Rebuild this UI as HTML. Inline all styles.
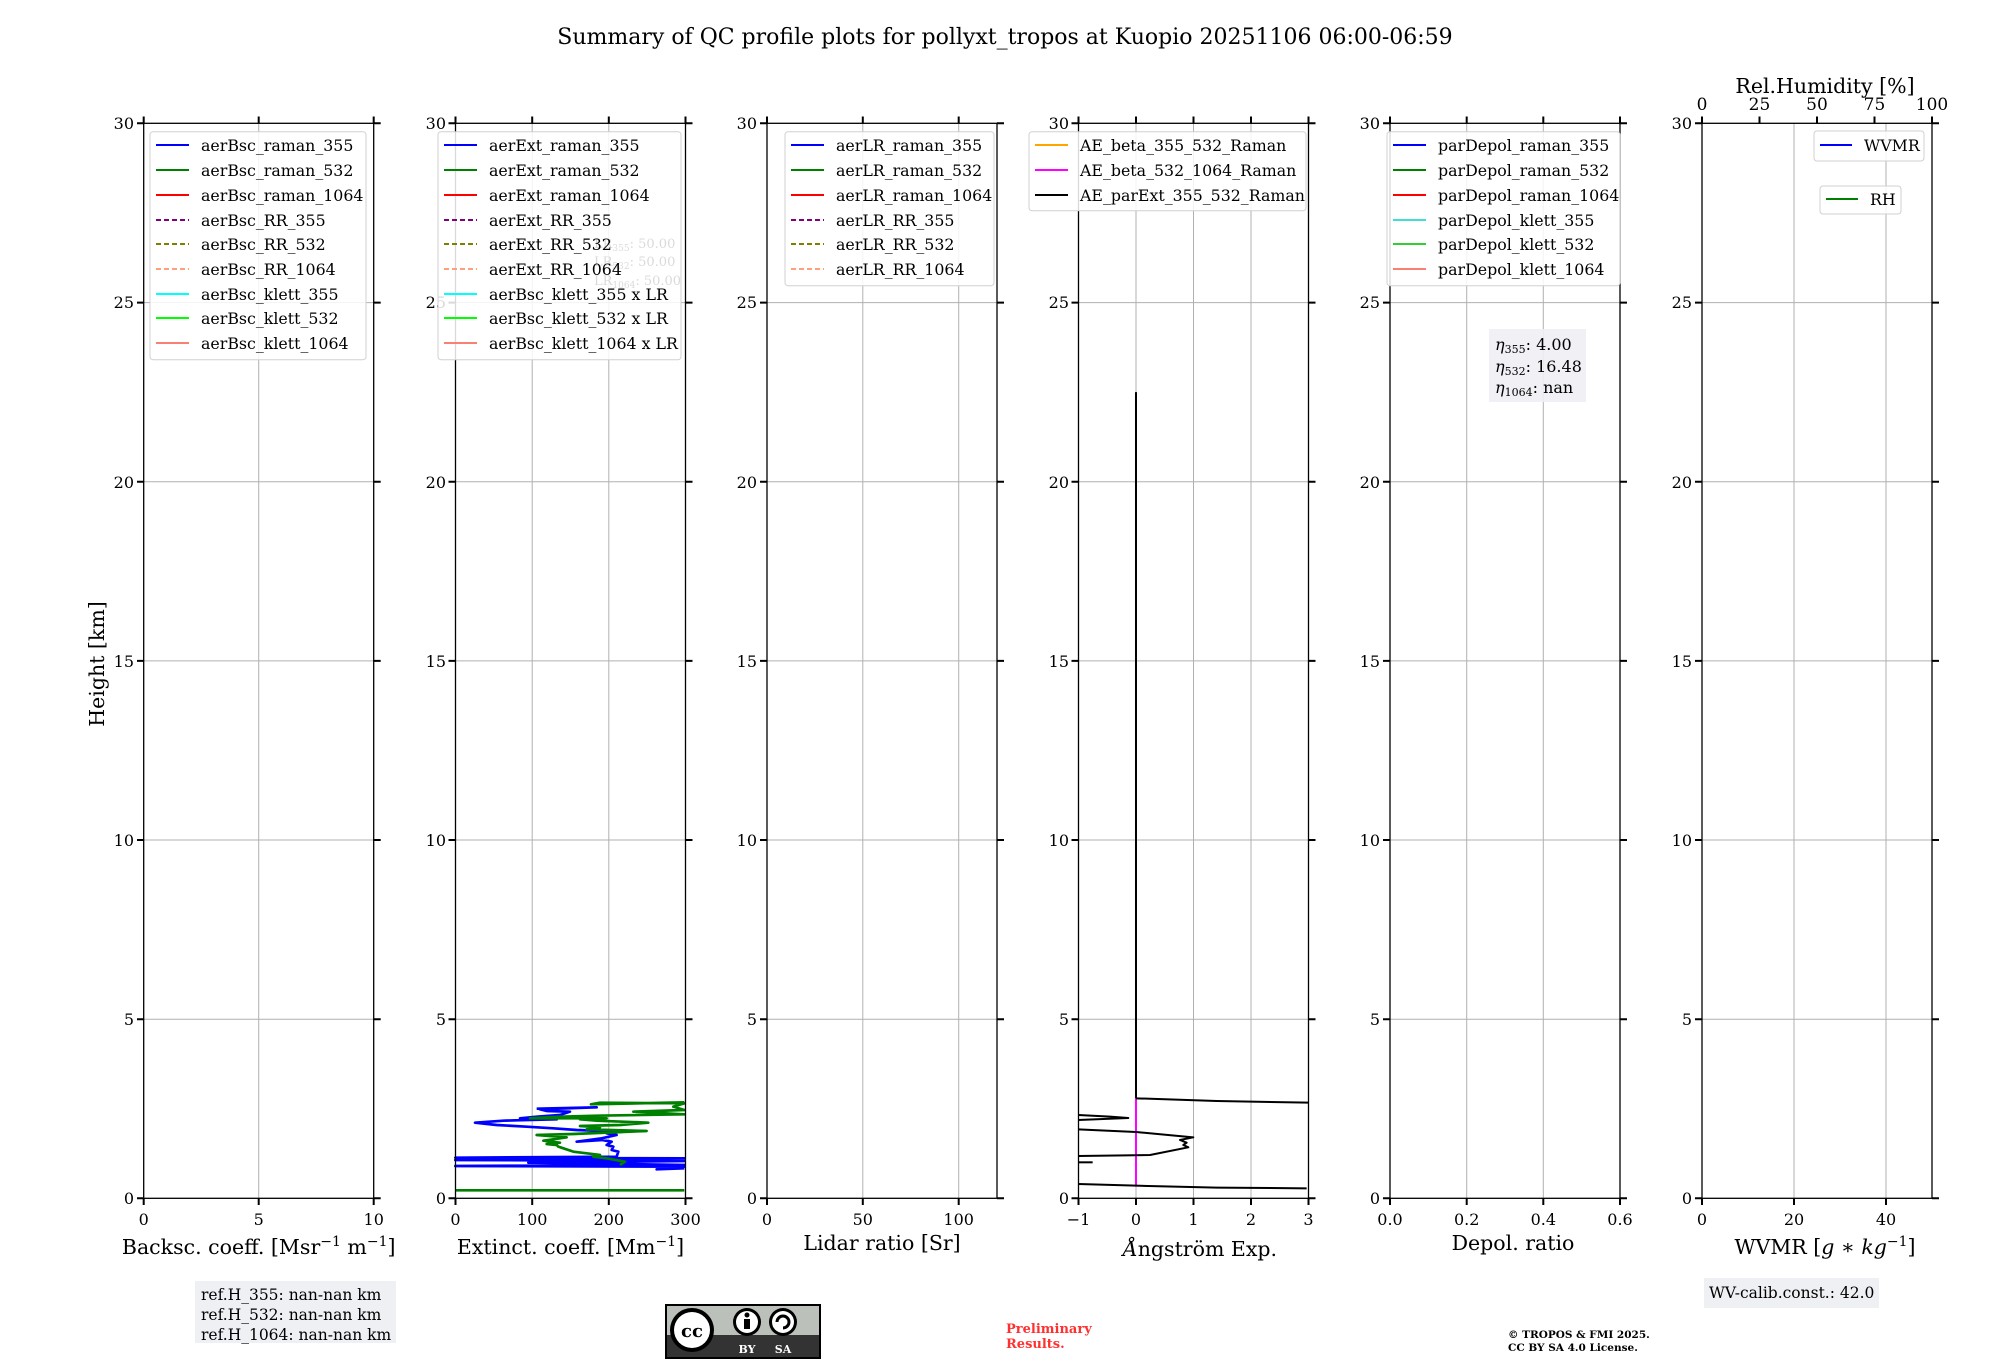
<!DOCTYPE html>
<html><head><meta charset="utf-8"><style>
html,body{margin:0;padding:0;background:#fff}
svg{display:block}
text{font-family:"DejaVu Serif","Liberation Serif",serif;fill:#000}
.t{font-size:16px}
.lg{font-size:15.8px}
.lab{font-size:20.5px}
.g{stroke:#b0b0b0;stroke-width:1}
.sp{fill:none;stroke:#000;stroke-width:1.3}
.tk{stroke:#000;stroke-width:2}
.lb{fill:#fff;fill-opacity:0.85;stroke:#d0d0d0;stroke-width:1}
</style></head><body>
<svg width="2000" height="1360" viewBox="0 0 2000 1360" xmlns="http://www.w3.org/2000/svg">
<text x="1005" y="44" font-size="22" text-anchor="middle">Summary of QC profile plots for pollyxt_tropos at Kuopio 20251106 06:00-06:59</text>
<text class="lab" transform="translate(104,664) rotate(-90)" text-anchor="middle">Height [km]</text>

<g id="panels">
<g transform="translate(143.7,0)">
 <g class="g"><line x1="115" y1="123.3" x2="115" y2="1198.3"/>
 <line x1="0" y1="1019.2" x2="230" y2="1019.2"/><line x1="0" y1="840" x2="230" y2="840"/><line x1="0" y1="660.9" x2="230" y2="660.9"/><line x1="0" y1="481.7" x2="230" y2="481.7"/><line x1="0" y1="302.6" x2="230" y2="302.6"/></g>
</g>
<g transform="translate(455.5,0)">
 <g class="g"><line x1="76.7" y1="123.3" x2="76.7" y2="1198.3"/><line x1="153.3" y1="123.3" x2="153.3" y2="1198.3"/>
 <line x1="0" y1="1019.2" x2="230" y2="1019.2"/><line x1="0" y1="840" x2="230" y2="840"/><line x1="0" y1="660.9" x2="230" y2="660.9"/><line x1="0" y1="481.7" x2="230" y2="481.7"/><line x1="0" y1="302.6" x2="230" y2="302.6"/></g>
</g>
<g transform="translate(767,0)">
 <g class="g"><line x1="95.8" y1="123.3" x2="95.8" y2="1198.3"/><line x1="191.7" y1="123.3" x2="191.7" y2="1198.3"/>
 <line x1="0" y1="1019.2" x2="230" y2="1019.2"/><line x1="0" y1="840" x2="230" y2="840"/><line x1="0" y1="660.9" x2="230" y2="660.9"/><line x1="0" y1="481.7" x2="230" y2="481.7"/><line x1="0" y1="302.6" x2="230" y2="302.6"/></g>
</g>
<g transform="translate(1078.5,0)">
 <g class="g"><line x1="57.5" y1="123.3" x2="57.5" y2="1198.3"/><line x1="115" y1="123.3" x2="115" y2="1198.3"/><line x1="172.5" y1="123.3" x2="172.5" y2="1198.3"/>
 <line x1="0" y1="1019.2" x2="230" y2="1019.2"/><line x1="0" y1="840" x2="230" y2="840"/><line x1="0" y1="660.9" x2="230" y2="660.9"/><line x1="0" y1="481.7" x2="230" y2="481.7"/><line x1="0" y1="302.6" x2="230" y2="302.6"/></g>
</g>
<g transform="translate(1390,0)">
 <g class="g"><line x1="76.7" y1="123.3" x2="76.7" y2="1198.3"/><line x1="153.3" y1="123.3" x2="153.3" y2="1198.3"/>
 <line x1="0" y1="1019.2" x2="230" y2="1019.2"/><line x1="0" y1="840" x2="230" y2="840"/><line x1="0" y1="660.9" x2="230" y2="660.9"/><line x1="0" y1="481.7" x2="230" y2="481.7"/><line x1="0" y1="302.6" x2="230" y2="302.6"/></g>
</g>
<g transform="translate(1702,0)">
 <g class="g"><line x1="92" y1="123.3" x2="92" y2="1198.3"/><line x1="184" y1="123.3" x2="184" y2="1198.3"/>
 <line x1="0" y1="1019.2" x2="230" y2="1019.2"/><line x1="0" y1="840" x2="230" y2="840"/><line x1="0" y1="660.9" x2="230" y2="660.9"/><line x1="0" y1="481.7" x2="230" y2="481.7"/><line x1="0" y1="302.6" x2="230" y2="302.6"/></g>
</g>
</g>

<!-- Data panel 2 -->
<g transform="translate(420,1050) scale(0.3333)" fill="none" stroke-width="8" stroke-linejoin="round">
 <polyline stroke="#008000" points="106,421 793,421"/>
 <polyline stroke="#0000ff" points="793,355 710,358 793,350 106,348 793,345 325,338 793,333 106,330 793,325 106,323 590,320 595,305 575,300 580,290 560,285 575,275 545,270 470,275 545,265 590,255 560,250 610,245 470,240 400,235 320,230 230,225 165,218 250,212 320,210 410,208 300,205 350,200 420,195 450,185 380,183 360,178 530,172 350,176"/>
 <polyline stroke="#008000" points="600,345 615,335 560,325 520,320 540,315 460,305 430,295 415,290 410,285 380,282 420,278 370,272 400,268 440,262 350,255 460,252 680,243 500,238 540,232 480,228 600,225 685,218 530,212 480,208 560,205 330,205 420,200 530,197 793,193 640,185 793,180 760,170 793,160 540,158 513,163 793,157"/>
</g>
<!-- Data panel 4 -->
<g transform="translate(1050,1050) scale(0.3333)" fill="none" stroke-width="6" stroke-linejoin="round">
 <line x1="258" y1="-1974" x2="258" y2="145" stroke="#000"/>
 <line x1="258" y1="145" x2="258" y2="410" stroke="#ff00ff"/>
 <polyline stroke="#000" points="258,145 500,153 775,158"/>
 <polyline stroke="#000" points="85,195 180,200 235,204 85,210"/>
 <polyline stroke="#000" points="85,238 258,246 430,262 390,270 410,278 400,285 415,292 300,315 85,318"/>
 <polyline stroke="#000" points="85,337 128,337"/>
 <polyline stroke="#000" points="85,402 258,407 500,413 770,415"/>
</g>

<g>
 <rect class="sp" x="143.7" y="123.3" width="230" height="1075"/>
 <rect class="sp" x="455.5" y="123.3" width="230" height="1075"/>
 <rect class="sp" x="767" y="123.3" width="230" height="1075"/>
 <rect class="sp" x="1078.5" y="123.3" width="230" height="1075"/>
 <rect class="sp" x="1390" y="123.3" width="230" height="1075"/>
 <rect class="sp" x="1702" y="123.3" width="230" height="1075"/>
</g>
<g class="tk">
<path d="M137,1198.3h7M137,1019.2h7M137,840h7M137,660.9h7M137,481.7h7M137,302.6h7M137,123.3h7 M373.7,1198.3h7M373.7,1019.2h7M373.7,840h7M373.7,660.9h7M373.7,481.7h7M373.7,302.6h7M373.7,123.3h7"/>
<path d="M448.5,1198.3h7M448.5,1019.2h7M448.5,840h7M448.5,660.9h7M448.5,481.7h7M448.5,302.6h7M448.5,123.3h7 M685.5,1198.3h7M685.5,1019.2h7M685.5,840h7M685.5,660.9h7M685.5,481.7h7M685.5,302.6h7M685.5,123.3h7"/>
<path d="M760,1198.3h7M760,1019.2h7M760,840h7M760,660.9h7M760,481.7h7M760,302.6h7M760,123.3h7 M997,1198.3h7M997,1019.2h7M997,840h7M997,660.9h7M997,481.7h7M997,302.6h7M997,123.3h7"/>
<path d="M1071.5,1198.3h7M1071.5,1019.2h7M1071.5,840h7M1071.5,660.9h7M1071.5,481.7h7M1071.5,302.6h7M1071.5,123.3h7 M1308.5,1198.3h7M1308.5,1019.2h7M1308.5,840h7M1308.5,660.9h7M1308.5,481.7h7M1308.5,302.6h7M1308.5,123.3h7"/>
<path d="M1383,1198.3h7M1383,1019.2h7M1383,840h7M1383,660.9h7M1383,481.7h7M1383,302.6h7M1383,123.3h7 M1620,1198.3h7M1620,1019.2h7M1620,840h7M1620,660.9h7M1620,481.7h7M1620,302.6h7M1620,123.3h7"/>
<path d="M1695,1198.3h7M1695,1019.2h7M1695,840h7M1695,660.9h7M1695,481.7h7M1695,302.6h7M1695,123.3h7 M1932,1198.3h7M1932,1019.2h7M1932,840h7M1932,660.9h7M1932,481.7h7M1932,302.6h7M1932,123.3h7"/>
<path d="M143.7,1198v7M258.7,1198v7M373.7,1198v7 M143.7,123.5v-7M258.7,123.5v-7M373.7,123.5v-7"/>
<path d="M455.5,1198v7M532.2,1198v7M608.8,1198v7M685.5,1198v7 M455.5,123.5v-7M532.2,123.5v-7M608.8,123.5v-7M685.5,123.5v-7"/>
<path d="M767,1198v7M862.8,1198v7M958.7,1198v7 M767,123.5v-7M862.8,123.5v-7M958.7,123.5v-7"/>
<path d="M1078.5,1198v7M1136,1198v7M1193.5,1198v7M1251,1198v7M1308.5,1198v7 M1078.5,123.5v-7M1136,123.5v-7M1193.5,123.5v-7M1251,123.5v-7M1308.5,123.5v-7"/>
<path d="M1390,1198v7M1466.7,1198v7M1543.3,1198v7M1620,1198v7 M1390,123.5v-7M1466.7,123.5v-7M1543.3,123.5v-7M1620,123.5v-7"/>
<path d="M1702,1198v7M1794,1198v7M1886,1198v7 M1702,123.5v-7M1759.5,123.5v-7M1817,123.5v-7M1874.5,123.5v-7M1932,123.5v-7"/>
</g>

<g class="t" text-anchor="end">
<text x="134" y="1204">0</text><text x="134" y="1025">5</text><text x="134" y="846">10</text><text x="134" y="667">15</text><text x="134" y="488">20</text><text x="134" y="308">25</text><text x="134" y="129">30</text>
<text x="446" y="1204">0</text><text x="446" y="1025">5</text><text x="446" y="846">10</text><text x="446" y="667">15</text><text x="446" y="488">20</text><text x="446" y="308" fill="#aaa">25</text><text x="446" y="129">30</text>
<text x="757" y="1204">0</text><text x="757" y="1025">5</text><text x="757" y="846">10</text><text x="757" y="667">15</text><text x="757" y="488">20</text><text x="757" y="308">25</text><text x="757" y="129">30</text>
<text x="1069" y="1204">0</text><text x="1069" y="1025">5</text><text x="1069" y="846">10</text><text x="1069" y="667">15</text><text x="1069" y="488">20</text><text x="1069" y="308">25</text><text x="1069" y="129">30</text>
<text x="1380" y="1204">0</text><text x="1380" y="1025">5</text><text x="1380" y="846">10</text><text x="1380" y="667">15</text><text x="1380" y="488">20</text><text x="1380" y="308">25</text><text x="1380" y="129">30</text>
<text x="1692" y="1204">0</text><text x="1692" y="1025">5</text><text x="1692" y="846">10</text><text x="1692" y="667">15</text><text x="1692" y="488">20</text><text x="1692" y="308">25</text><text x="1692" y="129">30</text>
</g>
<g class="t" text-anchor="middle">
<text x="143.7" y="1225">0</text><text x="258.7" y="1225">5</text><text x="373.7" y="1225">10</text>
<text x="455.5" y="1225">0</text><text x="532.2" y="1225">100</text><text x="608.8" y="1225">200</text><text x="685.5" y="1225">300</text>
<text x="767" y="1225">0</text><text x="862.8" y="1225">50</text><text x="958.7" y="1225">100</text>
<text x="1078.5" y="1225">−1</text><text x="1136" y="1225">0</text><text x="1193.5" y="1225">1</text><text x="1251" y="1225">2</text><text x="1308.5" y="1225">3</text>
<text x="1390" y="1225">0.0</text><text x="1466.7" y="1225">0.2</text><text x="1543.3" y="1225">0.4</text><text x="1620" y="1225">0.6</text>
<text x="1702" y="1225">0</text><text x="1794" y="1225">20</text><text x="1886" y="1225">40</text>
<text x="1702" y="110" font-size="17">0</text><text x="1759.5" y="110" font-size="17">25</text><text x="1817" y="110" font-size="17">50</text><text x="1874.5" y="110" font-size="17">75</text><text x="1932" y="110" font-size="17">100</text>
</g>
<g class="lab" text-anchor="middle">
<text x="258.7" y="1254">Backsc. coeff. [Msr<tspan font-size="14" dy="-8">−1</tspan><tspan dy="8"> m</tspan><tspan font-size="14" dy="-8">−1</tspan><tspan dy="8">]</tspan></text>
<text x="570.5" y="1254">Extinct. coeff. [Mm<tspan font-size="14" dy="-8">−1</tspan><tspan dy="8">]</tspan></text>
<text x="882" y="1250">Lidar ratio [Sr]</text>
<text x="1200" y="1256"><tspan font-style="italic">Å</tspan>ngström Exp.</text>
<text x="1513" y="1250">Depol. ratio</text>
<text x="1825" y="1254">WVMR [<tspan font-style="italic">g</tspan> ∗ <tspan font-style="italic">kg</tspan><tspan font-size="14" dy="-8">−1</tspan><tspan dy="8">]</tspan></text>
<text x="1825" y="93">Rel.Humidity [%]</text>
</g>

<g font-size="13">
<text x="594" y="248" fill="#c8c8c8">LR<tspan font-size="9" dy="3">355</tspan><tspan dy="-3">: 50.00</tspan></text>
<text x="594" y="266" fill="#c8c8c8">LR<tspan font-size="9" dy="3">532</tspan><tspan dy="-3">: 50.00</tspan></text>
<text x="594" y="285" fill="#c8c8c8">LR<tspan font-size="9" dy="3">1064</tspan><tspan dy="-3">: 50.00</tspan></text>
</g>

<g class="lg">
<rect class="lb" x="150" y="131.7" width="216" height="228" rx="3"/>
<g stroke-width="2" fill="none">
<line x1="156" y1="145" x2="189" y2="145" stroke="#0000ff"/>
<line x1="156" y1="170" x2="189" y2="170" stroke="#008000"/>
<line x1="156" y1="195" x2="189" y2="195" stroke="#ff0000"/>
<line x1="156" y1="220" x2="189" y2="220" stroke="#800080" stroke-dasharray="5,3"/>
<line x1="156" y1="244" x2="189" y2="244" stroke="#808000" stroke-dasharray="5,3"/>
<line x1="156" y1="269" x2="189" y2="269" stroke="#ffa07a" stroke-dasharray="5,3"/>
<line x1="156" y1="294" x2="189" y2="294" stroke="#00ffff"/>
<line x1="156" y1="318" x2="189" y2="318" stroke="#00ff00"/>
<line x1="156" y1="343" x2="189" y2="343" stroke="#fa8072"/>
</g>
<text x="201" y="151">aerBsc_raman_355</text><text x="201" y="176">aerBsc_raman_532</text><text x="201" y="201">aerBsc_raman_1064</text><text x="201" y="226">aerBsc_RR_355</text><text x="201" y="250">aerBsc_RR_532</text><text x="201" y="275">aerBsc_RR_1064</text><text x="201" y="300">aerBsc_klett_355</text><text x="201" y="324">aerBsc_klett_532</text><text x="201" y="349">aerBsc_klett_1064</text>

<rect class="lb" x="438" y="131.7" width="243" height="228" rx="3"/>
<g stroke-width="2" fill="none" transform="translate(288,0)">
<line x1="156" y1="145" x2="189" y2="145" stroke="#0000ff"/>
<line x1="156" y1="170" x2="189" y2="170" stroke="#008000"/>
<line x1="156" y1="195" x2="189" y2="195" stroke="#ff0000"/>
<line x1="156" y1="220" x2="189" y2="220" stroke="#800080" stroke-dasharray="5,3"/>
<line x1="156" y1="244" x2="189" y2="244" stroke="#808000" stroke-dasharray="5,3"/>
<line x1="156" y1="269" x2="189" y2="269" stroke="#ffa07a" stroke-dasharray="5,3"/>
<line x1="156" y1="294" x2="189" y2="294" stroke="#00ffff"/>
<line x1="156" y1="318" x2="189" y2="318" stroke="#00ff00"/>
<line x1="156" y1="343" x2="189" y2="343" stroke="#fa8072"/>
</g>
<g transform="translate(288,0)">
<text x="201" y="151">aerExt_raman_355</text><text x="201" y="176">aerExt_raman_532</text><text x="201" y="201">aerExt_raman_1064</text><text x="201" y="226">aerExt_RR_355</text><text x="201" y="250">aerExt_RR_532</text><text x="201" y="275">aerExt_RR_1064</text><text x="201" y="300">aerBsc_klett_355 x LR</text><text x="201" y="324">aerBsc_klett_532 x LR</text><text x="201" y="349">aerBsc_klett_1064 x LR</text>
</g>

<rect class="lb" x="785" y="131.7" width="209" height="154" rx="3"/>
<g stroke-width="2" fill="none" transform="translate(635,0)">
<line x1="156" y1="145" x2="189" y2="145" stroke="#0000ff"/>
<line x1="156" y1="170" x2="189" y2="170" stroke="#008000"/>
<line x1="156" y1="195" x2="189" y2="195" stroke="#ff0000"/>
<line x1="156" y1="220" x2="189" y2="220" stroke="#800080" stroke-dasharray="5,3"/>
<line x1="156" y1="244" x2="189" y2="244" stroke="#808000" stroke-dasharray="5,3"/>
<line x1="156" y1="269" x2="189" y2="269" stroke="#ffa07a" stroke-dasharray="5,3"/>
</g>
<g transform="translate(635,0)">
<text x="201" y="151">aerLR_raman_355</text><text x="201" y="176">aerLR_raman_532</text><text x="201" y="201">aerLR_raman_1064</text><text x="201" y="226">aerLR_RR_355</text><text x="201" y="250">aerLR_RR_532</text><text x="201" y="275">aerLR_RR_1064</text>
</g>

<rect class="lb" x="1029" y="131.7" width="277" height="79" rx="3"/>
<g stroke-width="2" fill="none" transform="translate(879,0)">
<line x1="156" y1="145" x2="189" y2="145" stroke="#ffa500"/>
<line x1="156" y1="170" x2="189" y2="170" stroke="#ff00ff"/>
<line x1="156" y1="195" x2="189" y2="195" stroke="#000"/>
</g>
<g transform="translate(879,0)">
<text x="201" y="151">AE_beta_355_532_Raman</text><text x="201" y="176">AE_beta_532_1064_Raman</text><text x="201" y="201">AE_parExt_355_532_Raman</text>
</g>

<rect class="lb" x="1387" y="131.7" width="233" height="154" rx="3"/>
<g stroke-width="2" fill="none" transform="translate(1237,0)">
<line x1="156" y1="145" x2="189" y2="145" stroke="#0000ff"/>
<line x1="156" y1="170" x2="189" y2="170" stroke="#008000"/>
<line x1="156" y1="195" x2="189" y2="195" stroke="#ff0000"/>
<line x1="156" y1="220" x2="189" y2="220" stroke="#40e0d0"/>
<line x1="156" y1="244" x2="189" y2="244" stroke="#32cd32"/>
<line x1="156" y1="269" x2="189" y2="269" stroke="#fa8072"/>
</g>
<g transform="translate(1237,0)">
<text x="201" y="151">parDepol_raman_355</text><text x="201" y="176">parDepol_raman_532</text><text x="201" y="201">parDepol_raman_1064</text><text x="201" y="226">parDepol_klett_355</text><text x="201" y="250">parDepol_klett_532</text><text x="201" y="275">parDepol_klett_1064</text>
</g>

<rect class="lb" x="1814" y="131" width="110" height="30" rx="3"/>
<line x1="1820" y1="145" x2="1852" y2="145" stroke="#0000ff" stroke-width="2"/>
<text x="1864" y="151">WVMR</text>
<rect class="lb" x="1820" y="186" width="81" height="28" rx="3"/>
<line x1="1826" y1="199" x2="1858" y2="199" stroke="#008000" stroke-width="2"/>
<text x="1870" y="205">RH</text>
</g>

<rect x="1489" y="329" width="97" height="73" fill="#eff0f4" fill-opacity="0.9"/>
<g font-size="16">
<text x="1495" y="350"><tspan font-style="italic">η</tspan><tspan font-size="11" dy="3">355</tspan><tspan dy="-3">: 4.00</tspan></text>
<text x="1495" y="372"><tspan font-style="italic">η</tspan><tspan font-size="11" dy="3">532</tspan><tspan dy="-3">: 16.48</tspan></text>
<text x="1495" y="393"><tspan font-style="italic">η</tspan><tspan font-size="11" dy="3">1064</tspan><tspan dy="-3">: nan</tspan></text>
</g>

<rect x="195" y="1281" width="201" height="62" fill="#eff0f4"/>
<g font-size="15.5">
<text x="201" y="1300">ref.H_355: nan-nan km</text>
<text x="201" y="1320">ref.H_532: nan-nan km</text>
<text x="201" y="1340">ref.H_1064: nan-nan km</text>
</g>
<rect x="1704" y="1278" width="175" height="30" fill="#eff0f4"/>
<text x="1709" y="1298" font-size="15.5">WV-calib.const.: 42.0</text>

<g>
<rect x="665" y="1304" width="156" height="55" fill="#000"/>
<rect x="667" y="1306" width="152" height="29" fill="#bbc0ba"/>
<rect x="667" y="1335" width="152" height="22" fill="#333"/>
<circle cx="692" cy="1330" r="22" fill="#000"/>
<circle cx="692" cy="1330" r="18" fill="#fff"/>
<text x="692" y="1337" font-family="Liberation Sans,sans-serif" font-weight="bold" font-size="18" text-anchor="middle">cc</text>
<circle cx="747" cy="1322" r="14" fill="#000"/><circle cx="747" cy="1322" r="11" fill="#fff"/>
<circle cx="747" cy="1315" r="2.5" fill="#000"/><rect x="744" y="1319" width="6" height="10" fill="#000"/>
<circle cx="783" cy="1322" r="14" fill="#000"/><circle cx="783" cy="1322" r="11" fill="#fff"/>
<path d="M777,1322 a6,6 0 1 1 6,6" fill="none" stroke="#000" stroke-width="3"/>
<text x="747" y="1353" font-family="Liberation Sans,sans-serif" font-size="11" font-weight="bold" text-anchor="middle" style="fill:#fff">BY</text>
<text x="783" y="1353" font-family="Liberation Sans,sans-serif" font-size="11" font-weight="bold" text-anchor="middle" style="fill:#fff">SA</text>
</g>

<g font-weight="bold" font-size="13">
<text x="1006" y="1333" style="fill:#ff3030">Preliminary</text>
<text x="1006" y="1348" style="fill:#ff3030">Results.</text>
</g>
<g font-weight="bold" font-size="10.5">
<text x="1508" y="1338">© TROPOS &amp; FMI 2025.</text>
<text x="1508" y="1351">CC BY SA 4.0 License.</text>
</g>
</svg>
</body></html>
